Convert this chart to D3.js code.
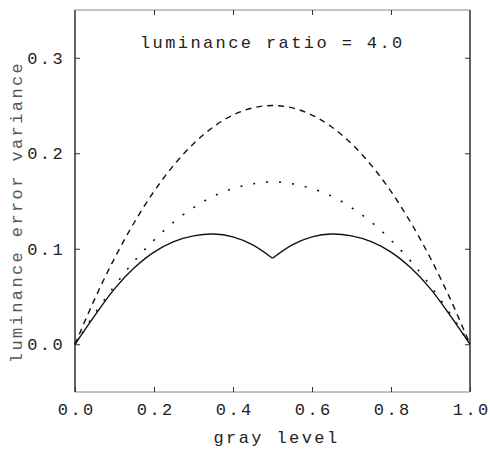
<!DOCTYPE html>
<html>
<head>
<meta charset="utf-8">
<script src="https://cdn.jsdelivr.net/npm/d3@7"></script>
<style>
  html, body { margin: 0; padding: 0; background: #fff; }
  svg { display: block; }
  text { font-family: "Liberation Mono", "DejaVu Sans Mono", monospace; fill: #222; }
</style>
</head>
<body>
<svg id="chart" width="490" height="454"></svg>
<script>
// ---- data ----
const grayLevels = [0, 0.05, 0.1, 0.15, 0.2, 0.25, 0.3, 0.35, 0.4, 0.45, 0.5,
                    0.55, 0.6, 0.65, 0.7, 0.75, 0.8, 0.85, 0.9, 0.95, 1.0];
const dashedValues = [0, 0.0475, 0.09, 0.1275, 0.16, 0.1875, 0.21, 0.2275, 0.24, 0.2475, 0.25,
                      0.2475, 0.24, 0.2275, 0.21, 0.1875, 0.16, 0.1275, 0.09, 0.0475, 0];
const dottedValues = [0, 0.032, 0.061, 0.087, 0.109, 0.128, 0.143, 0.155, 0.163, 0.168, 0.170,
                      0.168, 0.163, 0.155, 0.143, 0.128, 0.109, 0.087, 0.061, 0.032, 0];
const solidValues  = [0, 0.030, 0.058, 0.080, 0.0965, 0.1075, 0.1135, 0.1155, 0.1125, 0.104, 0.090,
                      0.104, 0.1125, 0.1155, 0.1135, 0.1075, 0.0965, 0.080, 0.058, 0.030, 0];
const xTicks = [0, 0.2, 0.4, 0.6, 0.8, 1.0];
const yTicks = [0, 0.1, 0.2, 0.3];
const titleText = "luminance ratio = 4.0";
const xLabel = "gray level";
const yLabel = "luminance error variance";

// ---- layout ----
const svg = d3.select("#chart");
const x = d3.scaleLinear().domain([0, 1]).range([75, 470]);
const y = d3.scaleLinear().domain([-0.05, 0.35]).range([392, 10]);
const [x0, x1] = x.range();
const [y0, y1] = y.range();

const font = { size: 17, spacing: 2.4 };

// frame
svg.append("line").attr("x1", x0).attr("x2", x0).attr("y1", y1).attr("y2", y0)
  .attr("stroke", "#222").attr("stroke-width", 1.4);
svg.append("line").attr("x1", x1).attr("x2", x1).attr("y1", y1).attr("y2", y0)
  .attr("stroke", "#222").attr("stroke-width", 1.4);
svg.append("line").attr("x1", x0).attr("x2", x1).attr("y1", y1).attr("y2", y1)
  .attr("stroke", "#888").attr("stroke-width", 1);
svg.append("line").attr("x1", x0).attr("x2", x1).attr("y1", y0).attr("y2", y0)
  .attr("stroke", "#888").attr("stroke-width", 1);

// axes (inward ticks)
const tickLen = 5;
const fmt = d3.format(".1f");

const bottomAxis = d3.axisBottom(x).tickValues(xTicks).tickSizeInner(-tickLen).tickSizeOuter(0)
  .tickPadding(tickLen + 6).tickFormat(fmt);
const gB = svg.append("g").attr("transform", `translate(0,${y0})`).call(bottomAxis);
const topAxis = d3.axisTop(x).tickValues(xTicks.slice(1, -1)).tickSizeInner(-tickLen).tickSizeOuter(0)
  .tickFormat("");
const gT = svg.append("g").attr("transform", `translate(0,${y1})`).call(topAxis);
const leftAxis = d3.axisLeft(y).tickValues(yTicks).tickSizeInner(-tickLen).tickSizeOuter(0)
  .tickPadding(tickLen + 5).tickFormat(fmt);
const gL = svg.append("g").attr("transform", `translate(${x0},0)`).call(leftAxis);
const rightAxis = d3.axisRight(y).tickValues(yTicks).tickSizeInner(-tickLen).tickSizeOuter(0)
  .tickFormat("");
const gR = svg.append("g").attr("transform", `translate(${x1},0)`).call(rightAxis);

[gB, gT, gL, gR].forEach(g => {
  g.select(".domain").remove();
  g.selectAll(".tick line").attr("stroke", "#333").attr("stroke-width", 1);
  g.selectAll(".tick text")
    .style("font-family", '"Liberation Mono", "DejaVu Sans Mono", monospace')
    .style("font-size", font.size + "px")
    .style("letter-spacing", font.spacing + "px")
    .attr("fill", "#222");
});
gB.selectAll(".tick text").attr("dy", "0.71em").attr("dx", font.spacing / 2);
gL.selectAll(".tick text").attr("dx", 0);

// curves
const pts = vals => grayLevels.map((g, i) => [g, vals[i]]);
const line = d3.line().x(d => x(d[0])).y(d => y(d[1])).curve(d3.curveCatmullRom);

svg.append("path").datum(pts(dashedValues))
  .attr("d", line).attr("fill", "none").attr("stroke", "#111")
  .attr("stroke-width", 1.4).attr("stroke-dasharray", "6,5");

svg.append("path").datum(pts(dottedValues))
  .attr("d", line).attr("fill", "none").attr("stroke", "#111")
  .attr("stroke-width", 1.6).attr("stroke-dasharray", "2,11");

const solidPts = pts(solidValues);
[solidPts.filter(d => d[0] <= 0.5), solidPts.filter(d => d[0] >= 0.5)].forEach(seg => {
  svg.append("path").datum(seg)
    .attr("d", line).attr("fill", "none").attr("stroke", "#111")
    .attr("stroke-width", 1.4);
});

// texts
svg.append("text").attr("x", 140).attr("y", 48)
  .style("font-size", font.size + "px").style("letter-spacing", font.spacing + "px")
  .text(titleText);

svg.append("text").attr("x", (x0 + x1) / 2 + 4).attr("y", 443)
  .attr("text-anchor", "middle")
  .style("font-size", font.size + "px").style("letter-spacing", font.spacing + "px")
  .text(xLabel);

svg.append("text")
  .attr("transform", `translate(22,212) rotate(-90)`)
  .attr("text-anchor", "middle")
  .attr("fill", "#555").style("fill", "#555")
  .style("font-size", font.size + "px").style("letter-spacing", font.spacing + "px")
  .text(yLabel);
</script>
</body>
</html>
